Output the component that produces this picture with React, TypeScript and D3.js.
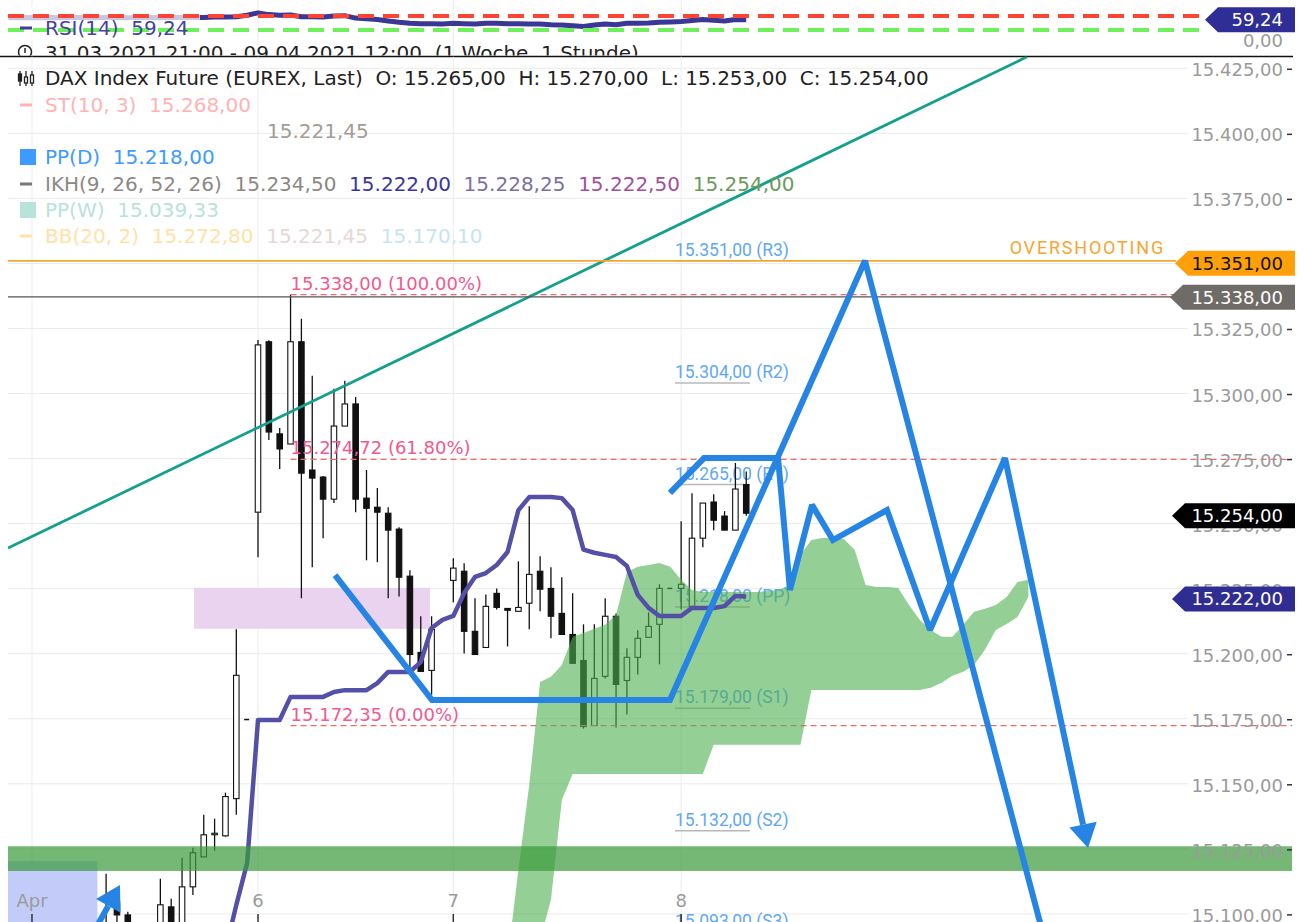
import React from 'react';
import * as d3 from 'd3';

const W = 1306, H = 922;

// ---- candles (hourly index, 0 = first candle of Apr 6) ----
const candleIndex = [-14,-13,-12,-9,-8,-7,-6,-5,-4,-3,-2,-1,0,1,2,3,4,5,6,7,8,9,10,11,12,13,14,15,16,18,19,20,21,22,23,24,25,26,27,28,29,30,31,32,33,34,35,36,37,38,39,40,41,42,43,44,45];
const openP = [15085,15104.6,15099.6,15090,15102.7,15095,15110.4,15121.9,15130.6,15130,15144.3,15174.7,
  15254.4,15319.9,15284.5,15280.6,15319.9,15270.6,15267.9,15259.4,15287.5,15296,15259.8,15256.3,15254,15247.9,15229.8,15200.5,15193.6,
  15228.2,15231.7,15208.6,15202.4,15223.2,15217.4,15216.3,15219.4,15231.7,15225.1,15215.5,15207.4,15197.4,15172.4,15191.3,15214.4,15189.7,15198.6,15206.3,15211.3,15225.1,15225.1,15218.2,15244.4,15258.3,15252.9,15247.5,15265];
const highP = [15115.4,15109.6,15100.8,15113.5,15105.8,15121.6,15125.4,15138.1,15136.6,15146.6,15209.4,15174.7,
  15320.6,15320.5,15286.8,15338,15328.7,15306.8,15268.3,15301.8,15304.9,15298.7,15270.6,15263.7,15256.3,15248.6,15232.1,15214.4,15214.4,
  15236.7,15234.8,15221.3,15222.8,15225.1,15217.4,15235.5,15256.7,15237.5,15233.2,15229.4,15223.2,15211.3,15211.3,15221.3,15215.5,15202.1,15209,15215.9,15226.7,15225.1,15250.9,15261.7,15257.9,15261.3,15254.8,15273.3,15270];
const lowP = [15080,15095,15085,15085,15088,15090,15107.3,15121.9,15124.3,15129.7,15138.1,15174.7,
  15237.1,15282.1,15271.0,15280.6,15221.3,15233.2,15244.4,15257.9,15287.5,15254.4,15235.9,15235.2,15221.3,15222,15194.4,15193.2,15184.3,
  15219.8,15200.1,15199.7,15202.4,15217,15202.8,15216.3,15209.4,15216.3,15205.9,15207.4,15196.3,15171.2,15172.4,15190.5,15171.6,15176.6,15192.0,15206.3,15195.9,15225.1,15217,15218.2,15240.9,15247.5,15247.5,15247.5,15253];
const closeP = [15092,15099.6,15090,15103.5,15092,15110.4,15123.5,15130.4,15131.0,15145.1,15191.7,15174.7,
  15318.7,15285.2,15278.7,15319.9,15269.4,15267.5,15259.4,15287.5,15296,15259.4,15255.9,15254.4,15247.5,15229.4,15199.7,15193.2,15209.4,
  15232.9,15208.6,15199.7,15218.2,15217.8,15216.7,15217.8,15230.5,15224.8,15214.4,15207.4,15196.3,15172.0,15190.5,15214.4,15188.2,15198.6,15205.9,15210.5,15225.1,15225.1,15226.7,15244.4,15257.9,15251.3,15247.5,15263.3,15254];

// ---- Ichimoku ----
const kijunStart = -3;
const kijun = [15086,15103.4,15119.6,15174.5,15174.5,15174.5,15183.4,15183.4,15183.4,15183.4,15185.3,15186.0,15186.0,15186.0,15188.7,15193.0,15193.0,15193.0,15196.8,15209.9,15213.0,15214.5,15223.3,15229.5,15231.0,15234.1,15239.1,15255.2,15260.2,15260.2,15260.2,15259.8,15255.2,15240.0,15238.8,15238.0,15237.2,15233.7,15222.6,15217.6,15214.5,15214.5,15214.5,15217.6,15217.6,15217.6,15218.3,15222.2,15222.0];
const cloudStart = 23;
const cloudUpper = [15082.3,15116.9,15149.6,15189.1,15191.1,15195.7,15206.5,15208.0,15209.6,15211.1,15214.9,15231.4,15233.4,15234.1,15234.9,15233.4,15228.4,15224.5,15223.7,15223.7,15223.7,15223.7,15223.7,15223.7,15224.1,15224.5,15226.4,15238.0,15243.7,15244.5,15244.5,15244.1,15239.9,15226.4,15225.6,15225.6,15225.3,15218.7,15213.0,15209.1,15206.5,15206.5,15211.1,15216.1,15217.3,15218.7,15221.8,15227.6,15228.4];
const cloudLower = [15066.9,15074.6,15082.3,15090.0,15105.4,15143.8,15153.8,
  15153.8,15153.8,15153.8,15153.8,15153.8,15153.8,15153.8,15153.8,15153.8,15153.8,15153.8,15153.8,
  15165.0,15165.0,15165.0,15165.0,15165.0,15165.0,15165.0,15165.0,15165.0,
  15186.1,15186.1,15186.1,15186.1,15186.1,15186.1,15186.1,15186.1,15186.1,15186.1,15186.1,
  15186.9,15188.8,15191.5,15193.1,15195.7,15201.5,15209.1,15211.4,15214.1,15221.8];

// ---- RSI ----
const rsiStart = -23;
const rsi = [66,65,66,65,66,65,66,66,65,66,66,65,66,66,65,66,66,66,
  66,67,67,68,72,79,74,72,73,68,68,67,70,71,64,62,60,56,52,49,48,48,47,49,48,47,49,49,48,48,47,47,45,44,42,40,44,47,45,49,49,50,52,53,54,57,60,58,56,60,59.24];

// ---- pivots, fibs, levels ----
const pivotNames = ['R3','R2','R1','PP','S1','S2','S3'];
const pivotLevels = [15351,15304,15265,15218,15179,15132,15093];
const fibLevels = [15338,15274.72,15172.35];
const fibPct = ['100.00%','61.80%','0.00%'];
const overshoot = 15351;
const lastHigh = 15338;
const bandLevels = [15116.5,15126];
const zoneLevels = [15209.6,15225.3];
const zoneRange = [-5.9,15.85];
const blueBoxTop = 15120.4;
const blueBoxRange = [-23.1,-14.8];
const trendIdx = [-23.04,70.88];
const trendPrice = [15240.6,15429.4];

// ---- drawn projection paths (index, price) ----
const path1Idx = [7.1,16.04,37.97,55.94,72.5];
const path1Price = [15230.2,15182.2,15182.2,15351,15090];
const path2Idx = [37.97,41.11,47.93,49.03,51.06,52.99,57.97,61.94,68.85,76.5];
const path2Price = [15261.8,15275.2,15275.2,15224.5,15257.2,15243.7,15255.2,15209.1,15275.2,15125.3];
const arrowIdx = [-15.3,-12.72];
const arrowPrice = [15091.9,15111.1];

// ---- axis ----
const dateLabels = ['Apr','6','7','8'];
const dateIdx = [-20.83,0,18,39];
const yTickValues = [15100,15125,15150,15175,15200,15225,15250,15275,15300,15325,15350,15375,15400,15425];

// ---- legend values ----
const stValue = 15268;
const bbMidValue = 15221.45;
const ppD = 15218;
const ppW = 15039.33;
const ikhValues = [15234.5,15222.0,15228.25,15222.5,15254.0];
const ikhColors = ['#8c8885','#3b35a0','#7a719e','#a24f9c','#6b9a5c'];
const bbValues = [15272.8,15221.45,15170.1];
const bbColors = ['#ffe2a6','#e6d8d6','#c6e4f2'];
const rsiValue = 59.24;

const loc = d3.formatLocale({decimal: ',', thousands: '.', grouping: [3], currency: ['', '']});
const fmt = loc.format(',.2f');

const F = "'DejaVu Sans', Verdana, sans-serif";
const RB = "Roboto, 'DejaVu Sans', sans-serif";

function Badge({cy, x0, fill, color, text}: {cy: number; x0: number; fill: string; color: string; text: string}) {
  const h = 25, xr = 1295;
  const pts = [[x0, cy], [x0 + 13, cy - h / 2], [xr, cy - h / 2], [xr, cy + h / 2], [x0 + 13, cy + h / 2]];
  return (
    <g>
      <polygon points={pts.map(p => p.join(',')).join(' ')} fill={fill} />
      <text x={1283} y={cy} dy="0.36em" textAnchor="end" fontFamily={F} fontSize={18} fill={color}>{text}</text>
    </g>
  );
}

export default function App() {
  const xs = d3.scaleLinear().domain([0, 45]).range([258, 258 + 45 * 10.85]);
  const ys = d3.scaleLinear().domain([15100, 15425]).range([913.9, 68.3]);
  const yr = d3.scaleLinear().domain([0, 100]).range([40.5, 5.5]);
  const PL = 8, PR = 1292, PT = 56.5, PB = 922;
  const gridRight = 1188;

  const line = d3.line<[number, number]>().x(d => xs(d[0])).y(d => ys(d[1]));
  const kijunLine = line(kijun.map((v, k) => [kijunStart + k, v] as [number, number]));
  const cloudArea = d3.area<number>()
    .x((_, k) => xs(cloudStart + k))
    .y0((_, k) => ys(cloudLower[k]))
    .y1(v => ys(v))(cloudUpper);
  const rsiLine = d3.line<number>().x((_, k) => xs(rsiStart + k)).y(v => yr(v))(rsi);

  const p1 = line(path1Idx.map((v, k) => [v, path1Price[k]] as [number, number]));
  const p2pts = path2Idx.map((v, k) => [xs(v), ys(path2Price[k])]);
  const head = (a: number[], b: number[], L: number, w: number) => {
    const dx = b[0] - a[0], dy = b[1] - a[1];
    const len = Math.hypot(dx, dy);
    const ux = dx / len, uy = dy / len;
    const bx = b[0] - ux * L, by = b[1] - uy * L;
    const nx = -uy, ny = ux;
    return {base: [bx, by], tri: [[b[0], b[1]], [bx + nx * w / 2, by + ny * w / 2], [bx - nx * w / 2, by - ny * w / 2]]};
  };
  const h2 = head(p2pts[p2pts.length - 2], p2pts[p2pts.length - 1], 24, 28);
  const p2line = d3.line()([...p2pts.slice(0, -1), h2.base] as [number, number][]);
  const aPts = arrowIdx.map((v, k) => [xs(v), ys(arrowPrice[k])]);
  const h3 = head(aPts[0], aPts[1], 24, 28);

  const blue = '#2684e4';
  const n = candleIndex.length;
  const last = n - 1;

  const legendRows = [85, 112, 138, 164, 191, 217, 243];
  const pre = {whiteSpace: 'pre' as const};

  return (
    <svg width={W} height={H} style={{position: 'absolute', left: 0, top: 0}}>
      <defs>
        <clipPath id="mainClip"><rect x={PL} y={PT} width={PR - PL} height={PB - PT} /></clipPath>
        <clipPath id="rsiClip"><rect x={0} y={0} width={PR} height={PT - 1} /></clipPath>
      </defs>
      <rect width={W} height={H} fill="#fff" />

      {/* ===== RSI panel ===== */}
      <g clipPath="url(#rsiClip)">
        {dateIdx.map((d, k) => (
          <line key={'rg' + k} x1={xs(d)} x2={xs(d)} y1={0} y2={PT} stroke="#ececec" />
        ))}
        <path d={rsiLine || ''} fill="none" stroke="#3b3796" strokeWidth={5} strokeLinejoin="round" />
        <rect x={PL} y={6} width={192} height={34} fill="#fff" opacity={0.72} />
        <line x1={PL} x2={1200} y1={yr(70)} y2={yr(70)} stroke="#ff4433" strokeWidth={4} strokeDasharray="16 9" />
        <line x1={PL} x2={1200} y1={yr(30)} y2={yr(30)} stroke="#6ef05a" strokeWidth={4} strokeDasharray="16 9" />
        <line x1={20} x2={32} y1={28} y2={28} stroke="#3f3c9c" strokeWidth={3} />
        <text x={45} y={35} fontFamily={F} fontSize={20} fill="#4542a2" xmlSpace="preserve" style={pre}>{`RSI(14)  ${loc.format(',.2f')(rsiValue)}`}</text>
        <circle cx={25} cy={52} r={6.5} fill="none" stroke="#222" strokeWidth={1.5} />
        <line x1={25} x2={25} y1={48} y2={53} stroke="#222" strokeWidth={1.5} />
        <text x={45} y={60} fontFamily={F} fontSize={20} fill="#222" xmlSpace="preserve" style={pre}>31.03.2021 21:00 - 09.04.2021 12:00  (1 Woche, 1 Stunde)</text>
        <text x={1283} y={41} dy="0.36em" textAnchor="end" fontFamily={F} fontSize={18} fill="#999">0,00</text>
      </g>
      <line x1={0} x2={1293} y1={PT} y2={PT} stroke="#111" strokeWidth={1.5} />

      {/* ===== main panel ===== */}
      <g clipPath="url(#mainClip)">
        {yTickValues.map(v => (
          <line key={'hg' + v} x1={PL} x2={gridRight} y1={ys(v)} y2={ys(v)} stroke="#ebebeb" />
        ))}
        {dateIdx.map((d, k) => (
          <line key={'vg' + k} x1={xs(d)} x2={xs(d)} y1={PT} y2={PB} stroke="#ececec" />
        ))}

        {/* zones */}
        <rect x={xs(zoneRange[0])} y={ys(zoneLevels[1])} width={xs(zoneRange[1]) - xs(zoneRange[0])}
          height={ys(zoneLevels[0]) - ys(zoneLevels[1])} fill="#ead3ef" />
        <rect x={xs(blueBoxRange[0])} y={ys(blueBoxTop)} width={xs(blueBoxRange[1]) - xs(blueBoxRange[0])}
          height={PB - ys(blueBoxTop)} fill="#c3ccf8" />

        {/* pivot labels */}
        {pivotLevels.map((v, k) => (
          <g key={'pv' + k}>
            <line x1={xs(38.43)} x2={xs(45.35)} y1={ys(v)} y2={ys(v)} stroke="#b8b8b8" strokeWidth={1.5} />
            <text x={xs(38.43)} y={ys(v) - 5} fontFamily={RB} fontSize={17.5} fill="#5fa8f5">{`${fmt(v)} (${pivotNames[k]})`}</text>
          </g>
        ))}

        {/* candles */}
        {candleIndex.map((ci, k) => {
          const o = openP[k], c = closeP[k], h = highP[k], l = lowP[k];
          const cx = xs(ci);
          const bw = 5.5;
          if (o === c && h === l) {
            return <line key={'c' + k} x1={cx - 3} x2={cx + 2} y1={ys(o)} y2={ys(o)} stroke="#111" strokeWidth={1.5} />;
          }
          const top = ys(Math.max(o, c)), bot = ys(Math.min(o, c));
          return (
            <g key={'c' + k}>
              <line x1={cx} x2={cx} y1={ys(h)} y2={ys(l)} stroke="#111" strokeWidth={1.3} />
              <rect x={cx - bw / 2} y={top} width={bw} height={Math.max(1.5, bot - top)}
                fill={c >= o ? '#fff' : '#111'} stroke="#111" strokeWidth={1.1} />
            </g>
          );
        })}

        {/* fib lines */}
        {fibLevels.map((v, k) => (
          <g key={'fb' + k}>
            <line x1={xs(3)} x2={PR} y1={ys(v)} y2={ys(v)} stroke="#f06a6a" strokeWidth={1.2} strokeDasharray="6 4" />
            <text x={xs(3)} y={ys(v) - 5} fontFamily={F} fontSize={18} fill="#f05a8c">{`${fmt(v)} (${fibPct[k]})`}</text>
          </g>
        ))}

        {/* cloud */}
        <path d={cloudArea || ''} fill="#4caf50" opacity={0.6} />

        {/* kijun */}
        <path d={kijunLine || ''} fill="none" stroke="#5450a8" strokeWidth={4.5} strokeLinejoin="round" />

        {/* green support band */}
        <rect x={PL} y={ys(bandLevels[1])} width={PR - PL} height={ys(bandLevels[0]) - ys(bandLevels[1])} fill="#3a9a3a" opacity={0.7} />

        {/* trend line */}
        <line x1={xs(trendIdx[0])} y1={ys(trendPrice[0])} x2={xs(trendIdx[1])} y2={ys(trendPrice[1])} stroke="#14a08c" strokeWidth={2.8} />

        {/* levels */}
        <line x1={PL} x2={1176} y1={ys(overshoot)} y2={ys(overshoot)} stroke="#f7a531" strokeWidth={1.8} />
        <line x1={PL} x2={1171} y1={ys(lastHigh) + 2.2} y2={ys(lastHigh) + 2.2} stroke="#555" strokeWidth={1.4} />

        {/* projections */}
        <path d={p1 || ''} fill="none" stroke={blue} strokeWidth={6} strokeLinejoin="miter" strokeMiterlimit={2} />
        <path d={p2line || ''} fill="none" stroke={blue} strokeWidth={6} strokeLinejoin="miter" strokeMiterlimit={2} />
        <polygon points={h2.tri.map(p => p.join(',')).join(' ')} fill={blue} />
        <line x1={aPts[0][0]} y1={aPts[0][1]} x2={h3.base[0]} y2={h3.base[1]} stroke={blue} strokeWidth={6} />
        <polygon points={h3.tri.map(p => p.join(',')).join(' ')} fill={blue} />
      </g>

      <text x={1165} y={ys(overshoot) - 7} textAnchor="end" fontFamily={RB} fontSize={18} letterSpacing={1.8} fill="#f7a531">OVERSHOOTING</text>

      {/* date labels */}
      {dateLabels.map((d, k) => (
        <g key={'dl' + k}>
          <text x={xs(dateIdx[k])} y={907} textAnchor="middle" fontFamily={F} fontSize={18} fill="#9a9a9a">{d}</text>
          <line x1={xs(dateIdx[k])} x2={xs(dateIdx[k])} y1={914} y2={922} stroke="#333" strokeWidth={1.5} />
        </g>
      ))}

      {/* legend */}
      <g fontFamily={F} fontSize={20}>
        <g stroke="#222" strokeWidth={1.3} fill="#fff">
          <line x1={20} x2={20} y1={71} y2={86} /><rect x={18.5} y={74} width={3} height={7} fill="#222" />
          <line x1={26} x2={26} y1={71} y2={86} /><rect x={24.5} y={77} width={3} height={6} />
          <line x1={32} x2={32} y1={71} y2={86} /><rect x={30.5} y={75} width={3} height={8} />
        </g>
        <text x={45} y={legendRows[0]} fill="#222" xmlSpace="preserve" style={pre}>
          {`DAX Index Future (EUREX, Last)  O: ${fmt(openP[last])}  H: ${fmt(highP[last])}  L: ${fmt(lowP[last])}  C: ${fmt(closeP[last])}`}
        </text>
        <line x1={20} x2={32} y1={105} y2={105} stroke="#ffb3b3" strokeWidth={3} />
        <text x={45} y={legendRows[1]} fill="#ffb3b3" xmlSpace="preserve" style={pre}>{`ST(10, 3)  ${fmt(stValue)}`}</text>
        <text x={267} y={legendRows[2]} fill="#a39d96">{fmt(bbMidValue)}</text>
        <rect x={20} y={149} width={16} height={16} fill="#3d9bff" />
        <text x={45} y={legendRows[3]} fill="#3d9bff" xmlSpace="preserve" style={pre}>{`PP(D)  ${fmt(ppD)}`}</text>
        <line x1={20} x2={32} y1={184} y2={184} stroke="#7a7675" strokeWidth={3} />
        <text x={45} y={legendRows[4]} xmlSpace="preserve" style={pre}>
          <tspan fill="#8c8885">{'IKH(9, 26, 52, 26)'}</tspan>
          {ikhValues.map((v, k) => (
            <tspan key={'ik' + k} fill={ikhColors[k]}>{`  ${fmt(v)}`}</tspan>
          ))}
        </text>
        <rect x={20} y={202} width={16} height={16} fill="#b8e2dc" />
        <text x={45} y={legendRows[5]} fill="#b8e2dc" xmlSpace="preserve" style={pre}>{`PP(W)  ${fmt(ppW)}`}</text>
        <line x1={20} x2={32} y1={236} y2={236} stroke="#ffe2a6" strokeWidth={3} />
        <text x={45} y={legendRows[6]} xmlSpace="preserve" style={pre}>
          <tspan fill={bbColors[0]}>{'BB(20, 2)'}</tspan>
          {bbValues.map((v, k) => (
            <tspan key={'bb' + k} fill={bbColors[k]}>{`  ${fmt(v)}`}</tspan>
          ))}
        </text>
      </g>

      {/* right axis */}
      {yTickValues.map(v => (
        <g key={'yt' + v}>
          <text x={1283} y={ys(v) + 1.5} dy="0.36em" textAnchor="end" fontFamily={F} fontSize={18} fill="#9a9a9a">{fmt(v)}</text>
          <line x1={1287} x2={1292} y1={ys(v) + 1} y2={ys(v) + 1} stroke="#333" strokeWidth={1.5} />
        </g>
      ))}

      {/* badges */}
      <Badge cy={yr(rsiValue)} x0={1205} fill="#2f2d96" color="#fff" text={loc.format(',.2f')(rsiValue)} />
      <Badge cy={ys(overshoot) + 2.5} x0={1175} fill="#ffa00a" color="#111" text={fmt(overshoot)} />
      <Badge cy={ys(lastHigh) + 2.5} x0={1170} fill="#6f6b67" color="#fff" text={fmt(lastHigh)} />
      <Badge cy={ys(closeP[last]) + 2.5} x0={1172} fill="#000" color="#fff" text={fmt(closeP[last])} />
      <Badge cy={ys(kijun[kijun.length - 1]) + 2.5} x0={1172} fill="#2f2d92" color="#fff" text={fmt(kijun[kijun.length - 1])} />
    </svg>
  );
}
